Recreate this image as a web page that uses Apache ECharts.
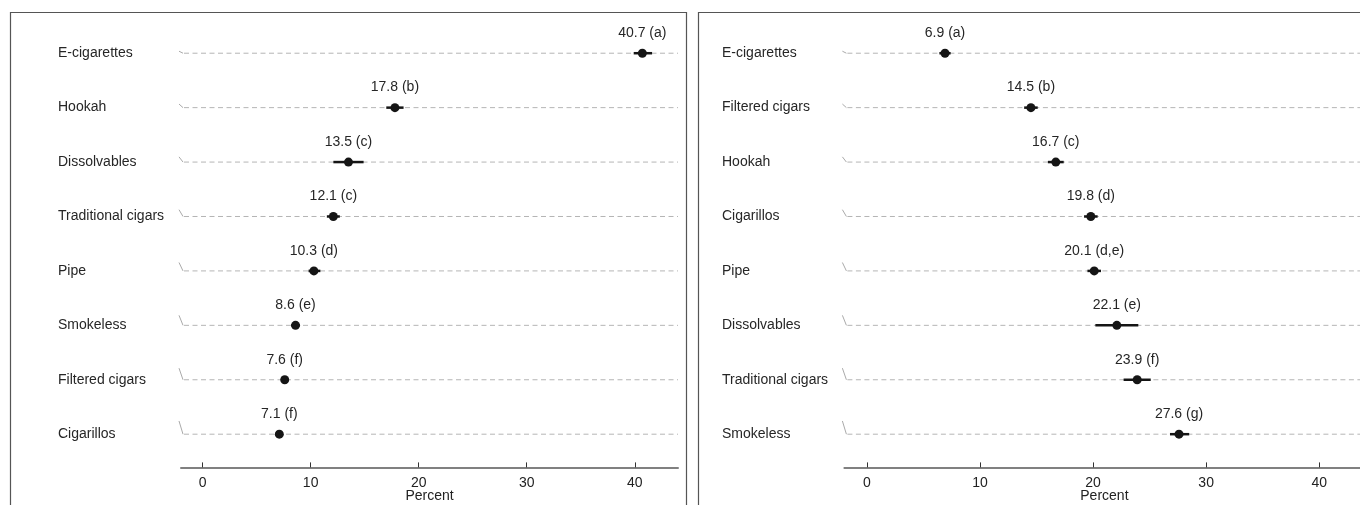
<!DOCTYPE html>
<html>
<head>
<meta charset="utf-8">
<script src="https://cdn.jsdelivr.net/npm/echarts@6/dist/echarts.min.js"></script>
<style>
html,body{margin:0;padding:0;background:#fff;}
#main{width:1360px;height:505px;}
</style>
</head>
<body>
<div id="main"></div>
<script>
// left panel
var leftCats = ['E-cigarettes', 'Hookah', 'Dissolvables', 'Traditional cigars', 'Pipe', 'Smokeless', 'Filtered cigars', 'Cigarillos'];
var leftVals = [40.7, 17.8, 13.5, 12.1, 10.3, 8.6, 7.6, 7.1];
var leftLow = [39.9, 17.0, 12.1, 11.5, 9.8, 8.2, 7.3, 6.8];
var leftHigh = [41.6, 18.6, 14.9, 12.7, 10.9, 9.0, 7.9, 7.4];
var leftTags = ['a', 'b', 'c', 'c', 'd', 'e', 'f', 'f'];

// right panel
var rightCats = ['E-cigarettes', 'Filtered cigars', 'Hookah', 'Cigarillos', 'Pipe', 'Dissolvables', 'Traditional cigars', 'Smokeless'];
var rightVals = [6.9, 14.5, 16.7, 19.8, 20.1, 22.1, 23.9, 27.6];
var rightLow = [6.4, 13.9, 16.0, 19.2, 19.5, 20.2, 22.7, 26.8];
var rightHigh = [7.4, 15.1, 17.4, 20.4, 20.7, 24.0, 25.1, 28.5];
var rightTags = ['a', 'b', 'c', 'd', 'd,e', 'e', 'f', 'g'];

var xTicks = [0, 10, 20, 30, 40];
var xMin = -2, xMax = 44;
var FONT = '"Liberation Sans", Arial, sans-serif';

var myChart = echarts.init(document.getElementById('main'));

function rows(vals, low, high) {
    var d = [];
    for (var i = 0; i < vals.length; i++) {
        d.push([low[i], high[i], vals[i], i]);
    }
    return d;
}

function makeRender(vals, tags) {
    return function (params, api) {
        var idx = api.value(3);
        var a = api.coord([xMin, idx]);
        var b = api.coord([xMax, idx]);
        var lo = api.coord([api.value(0), idx]);
        var hi = api.coord([api.value(1), idx]);
        var pt = api.coord([api.value(2), idx]);
        var slant = 2 + idx * 1.6;
        return {
            type: 'group',
            children: [
                { type: 'line', shape: { x1: a[0] - 2, y1: a[1] - slant, x2: a[0] + 2, y2: a[1] },
                  style: { stroke: '#aaa', lineWidth: 1 } },
                { type: 'line', shape: { x1: a[0] + 3, y1: a[1], x2: b[0], y2: b[1] },
                  style: { stroke: '#b5b5b5', lineWidth: 1, lineDash: [5, 3.5] } },
                { type: 'line', shape: { x1: lo[0], y1: lo[1], x2: hi[0], y2: hi[1] },
                  style: { stroke: '#151515', lineWidth: 2.5 } },
                { type: 'circle', shape: { cx: pt[0], cy: pt[1], r: 4.5 },
                  style: { fill: '#151515' } },
                { type: 'text', x: pt[0], y: pt[1] - 20,
                  style: { text: vals[params.dataIndex].toFixed(1) + ' (' + tags[params.dataIndex] + ')',
                           fill: '#262626', font: '14px ' + FONT, align: 'center', verticalAlign: 'middle' } }
            ]
        };
    };
}

function xAxisOf(gi) {
    return {
        type: 'value', gridIndex: gi, min: xMin, max: xMax, offset: 6,
        name: 'Percent', nameLocation: 'middle', nameGap: 22, nameMoveOverlap: false,
        nameTextStyle: { color: '#222', fontSize: 14, fontFamily: FONT },
        axisLine: { show: true, lineStyle: { color: '#808080', width: 2 } },
        axisTick: { show: true, inside: true, length: 5, customValues: xTicks, lineStyle: { color: '#333', width: 1 } },
        axisLabel: { customValues: xTicks, margin: 9, color: '#222', fontSize: 14, fontFamily: FONT },
        splitLine: { show: false }
    };
}

function yAxisOf(gi, cats, margin) {
    return {
        type: 'category', gridIndex: gi, data: cats, inverse: true,
        axisLine: { show: false }, axisTick: { show: false }, splitLine: { show: false },
        axisLabel: { align: 'left', margin: margin, color: '#262626', fontSize: 14, fontFamily: FONT }
    };
}

option = {
    backgroundColor: '#fff',
    animation: false,
    graphic: [
        { type: 'rect', shape: { x: 10.5, y: 12.5, width: 676, height: 560 },
          style: { fill: 'none', stroke: '#555', lineWidth: 1.2 } },
        { type: 'rect', shape: { x: 698.5, y: 12.5, width: 700, height: 560 },
          style: { fill: 'none', stroke: '#555', lineWidth: 1.2 } }
    ],
    grid: [
        { left: 181, width: 497, top: 26, height: 435.4, containLabel: false, outerBoundsMode: 'none' },
        { left: 844.4, width: 520, top: 26, height: 435.4, containLabel: false, outerBoundsMode: 'none' }
    ],
    xAxis: [xAxisOf(0), xAxisOf(1)],
    yAxis: [yAxisOf(0, leftCats, 123), yAxisOf(1, rightCats, 122.4)],
    series: [
        { type: 'custom', xAxisIndex: 0, yAxisIndex: 0, renderItem: makeRender(leftVals, leftTags),
          encode: { x: [0, 1, 2], y: 3 }, data: rows(leftVals, leftLow, leftHigh) },
        { type: 'custom', xAxisIndex: 1, yAxisIndex: 1, renderItem: makeRender(rightVals, rightTags),
          encode: { x: [0, 1, 2], y: 3 }, data: rows(rightVals, rightLow, rightHigh) }
    ]
};
myChart.setOption(option);
</script>
</body>
</html>
